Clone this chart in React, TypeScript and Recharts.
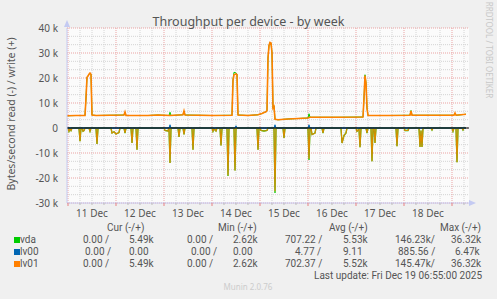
import { LineChart, Line, XAxis, YAxis, ReferenceLine } from "recharts";

// hours since 11 Dec 00:00, values in k bytes/s
type Pt = [number, number];

const dayLabels = ["11 Dec", "12 Dec", "13 Dec", "14 Dec", "15 Dec", "16 Dec", "17 Dec", "18 Dec"];
const dayLabelHours = [12, 36, 60, 84, 108, 132, 156, 180];
const yTicks = [-30, -20, -10, 0, 10, 20, 30, 40];

const lv01Write: Pt[] = [
  [-1, 4.9], [4, 5.0], [8.5, 5.0], [9, 12], [9.5, 20.3], [10, 20.8], [10.5, 21.5], [11, 22], [11.5, 21.5], [12, 5.2],
  [14, 5.0], [28, 5.2], [28.5, 6.4], [29, 5.0], [40, 5.0], [45, 5.2], [51, 5.0], [57.5, 5.3], [58, 6.8], [58.5, 5.2],
  [72, 5.0], [82, 5.1], [82.5, 19], [83, 21.3], [84, 21.6], [84.5, 21.3], [85, 5.2], [90, 5.0], [95, 5.3], [97, 5.8],
  [98, 6.2], [99, 6.5], [99.5, 7], [100, 28], [100.5, 33], [101, 34.2], [101.5, 34], [102, 30], [102.5, 8], [103, 8.6],
  [103.5, 3.5], [105, 3.3], [110, 3.6], [115, 3.8], [120, 4.0], [121, 4.3], [135, 4.3], [147.5, 4.4], [148, 12], [148.5, 21],
  [149, 18], [149.5, 8], [150, 5.0], [160, 5.0], [171, 5.1], [171.5, 6.8], [172, 5.1], [193, 5.1], [193.5, 6.0], [194, 5.1],
  [199, 5.5],
];

const vdaWrite: Pt[] = [
  [-1, 4.9], [4, 5.0], [8.5, 5.0], [9, 12], [9.5, 20.3], [10, 20.8], [10.5, 21.5], [11, 22], [11.5, 21.5], [12, 5.2],
  [14, 5.0], [28, 5.2], [28.5, 6.4], [29, 5.0], [40, 5.0], [45, 5.2], [50.5, 5.0], [51, 6.3], [51.5, 5.0], [57.5, 5.3],
  [58, 6.8], [58.5, 5.2], [72, 5.0], [82, 5.1], [82.5, 19.5], [83, 22.3], [84, 22.0], [84.5, 21.5], [85, 5.2], [90, 5.0],
  [95, 5.3], [97, 5.8], [98, 6.2], [99, 6.5], [99.5, 7], [100, 28], [100.5, 33], [101, 34.3], [101.5, 34], [102, 30],
  [102.5, 8], [103, 8.8], [103.5, 3.5], [105, 3.3], [110, 3.6], [115, 3.8], [120, 4.0], [120.5, 5.7], [121, 4.3], [135, 4.3],
  [147.5, 4.4], [148, 12], [148.5, 21.3], [149, 18], [149.5, 8], [150, 5.0], [160, 5.0], [171, 5.1], [171.5, 7.0], [172, 5.1],
  [193, 5.1], [193.5, 6.0], [194, 5.1], [199, 5.5],
];

const lv00Write: Pt[] = [
  [-1, 0], [50.5, 0], [51, 1.3], [51.5, 0], [83.5, 0], [84, 0.9], [84.5, 0], [103, 0], [103.5, 1.3], [104, 0],
  [120, 0], [120.5, 1.3], [121, 0], [199, 0],
];

const lv00Read: Pt[] = [[-1, 0], [199, 0]];

const lv01Read: Pt[] = [
  [-1, 0], [0, 0], [0.5, -1.3], [1, -0.3], [1.5, -1.0], [2, 0], [5.5, 0], [6, -5.3], [6.5, 0], [7, 0],
  [7.5, -1.3], [8, -1.0], [8.5, 0], [10.5, 0], [11, -1.3], [11.5, 0], [14, 0], [14.5, -6.4], [15, 0], [21.5, 0],
  [22, -2.0], [23, -1.5], [24, -2.4], [25.5, -1.8], [26, 0], [28, 0], [28.5, -2.0], [29, 0], [31.5, 0], [32, -6.0],
  [32.5, 0], [34, 0], [34.5, -8.7], [35, 0], [48, 0], [48.5, -1.0], [50, -1.2], [50.5, 0], [51, -14.0], [51.5, 0],
  [55, 0], [55.5, -3.6], [56, 0], [57.5, 0], [58, -2.6], [58.5, 0], [62, 0], [62.5, -8.7], [63, 0], [72, 0],
  [72.5, -1.3], [73, -0.3], [74, -1.2], [74.5, 0], [76, 0], [76.5, -7.0], [77, 0], [79.5, 0], [80, -19.0], [80.5, 0],
  [83, 0], [83.5, -17.0], [84, 0], [94.5, 0], [95, -8.7], [95.5, 0], [96, 0], [96.5, -1.0], [98, -1.2], [99.5, -1.0],
  [100, 0], [103, 0], [103.5, -25.3], [104, 0], [107.5, 0], [108, -4.0], [108.5, 0], [120, 0], [120.5, -12.3], [121, 0],
  [121.5, 0], [122, -2.6], [123.5, -2.0], [124, 0], [127, 0], [127.5, -2.0], [128, 0], [136.5, 0], [137, -6.0], [138, -3.0],
  [139, -2.0], [139.5, 0], [144, 0], [144.5, -1.3], [145.5, -0.5], [146, -7.7], [146.5, 0], [149, 0], [149.5, -2.0], [150, 0],
  [151.5, 0], [152, -13.3], [152.5, 0], [153, 0], [153.5, -6.0], [154, 0], [164, 0], [164.5, -7.3], [165, 0], [168, 0],
  [168.5, -1.0], [170, -1.0], [170.5, 0], [175.5, 0], [176, -7.6], [176.5, -1.0], [177, -7.6], [177.5, 0], [181.5, 0], [182, -0.8],
  [182.5, 0], [192, 0], [192.5, -1.3], [193, 0], [194, 0], [194.5, -13.7], [195, 0], [197, 0], [197.5, -0.8], [198, 0],
  [199, 0],
];

const vdaRead: Pt[] = [
  [-1, 0], [0, 0], [0.5, -1.3], [1, -0.3], [1.5, -1.0], [2, 0], [5.5, 0], [6, -5.3], [6.5, 0], [7, 0],
  [7.5, -1.3], [8, -1.0], [8.5, 0], [10.5, 0], [11, -1.3], [11.5, 0], [14, 0], [14.5, -6.4], [15, 0], [21.5, 0],
  [22, -2.0], [23, -1.5], [24, -2.4], [25.5, -1.8], [26, 0], [28, 0], [28.5, -2.0], [29, 0], [31.5, 0], [32, -6.0],
  [32.5, 0], [34, 0], [34.5, -8.7], [35, 0], [48, 0], [48.5, -1.0], [50, -1.2], [50.5, 0], [51, -14.0], [51.5, 0],
  [55, 0], [55.5, -3.6], [56, 0], [57.5, 0], [58, -2.6], [58.5, 0], [62, 0], [62.5, -8.7], [63, 0], [72, 0],
  [72.5, -1.3], [73, -0.3], [74, -1.2], [74.5, 0], [76, 0], [76.5, -7.0], [77, 0], [79.5, 0], [80, -19.2], [80.5, 0],
  [83, 0], [83.5, -17.0], [84, 0], [94.5, 0], [95, -8.7], [95.5, 0], [96, 0], [96.5, -1.0], [98, -1.2], [99.5, -1.0],
  [100, 0], [103, 0], [103.5, -26.0], [104, 0], [107.5, 0], [108, -4.0], [108.5, 0], [120, 0], [120.5, -12.8], [121, 0],
  [121.5, 0], [122, -2.6], [123.5, -2.0], [124, 0], [127, 0], [127.5, -2.0], [128, 0], [136.5, 0], [137, -6.0], [138, -3.0],
  [139, -2.0], [139.5, 0], [144, 0], [144.5, -1.3], [145.5, -0.5], [146, -7.7], [146.5, 0], [149, 0], [149.5, -2.0], [150, 0],
  [151.5, 0], [152, -13.3], [152.5, 0], [153, 0], [153.5, -6.0], [154, 0], [164, 0], [164.5, -7.3], [165, 0], [168, 0],
  [168.5, -1.0], [170, -1.0], [170.5, 0], [175.5, 0], [176, -7.6], [176.5, -1.0], [177, -7.6], [177.5, 0], [181.5, 0], [182, -0.8],
  [182.5, 0], [192, 0], [192.5, -1.3], [193, 0], [194, 0], [194.5, -13.7], [195, 0], [197, 0], [197.5, -0.8], [198, 0],
  [199, 0],
];

const legendNames = ["vda", "lv00", "lv01"];
const legendColors = ["#00CC00", "#0066B3", "#FF8000"];
const curRead = ["0.00 /", "0.00 /", "0.00 /"];
const curWrite = ["5.49k", "0.00", "5.49k"];
const minRead = ["0.00 /", "0.00 /", "0.00 /"];
const minWrite = ["2.62k", "0.00", "2.62k"];
const avgRead = ["707.22 /", "4.77 /", "702.37 /"];
const avgWrite = ["5.53k", "9.11", "5.52k"];
const maxRead = ["146.23k/", "885.56 /", "145.47k/"];
const maxWrite = ["36.32k", "6.47k", "36.32k"];

const toRows = (pts: Pt[]) => pts.map(([t, v]) => ({ t, v }));

const FONT = "'Noto Sans', sans-serif";
const LEGEND_FONT = "Roboto, 'Noto Sans', sans-serif";
const TEXT = "#555555";
const AXIS = "#C4CAF2";

// rrdtool-style grid: minor every 6h / 10k/3, major every day / 10k
const minorX: number[] = [];
const majorX: number[] = [];
for (let h = 0; h <= 198; h += 6) (h % 24 === 0 ? majorX : minorX).push(h);
const minorY: number[] = [];
for (let i = -9; i <= 12; i++) if (i % 3 !== 0) minorY.push((i * 10) / 3);
const hourToPx = (h: number) => 68 + 2 * h;

function YTick(props: any) {
  const { x, y, payload } = props;
  const v = payload.value;
  const label = v === 0 ? "0" : `${v} k`;
  return (
    <text x={x - 1} y={y + 3.5} textAnchor="end" fontSize={10} fill={TEXT} fontFamily={FONT}>
      {label}
    </text>
  );
}

function XTick(props: any) {
  const { x, y, payload } = props;
  const i = dayLabelHours.indexOf(payload.value);
  return (
    <text x={x} y={y + 6} textAnchor="middle" fontSize={10} fill={TEXT} fontFamily={FONT}>
      {dayLabels[i]}
    </text>
  );
}

const series = [
  { name: "vda", read: vdaRead, write: vdaWrite, color: legendColors[0], rw: 1.3, ww: 1, op: 1 },
  { name: "lv00", read: lv00Read, write: lv00Write, color: legendColors[1], rw: 1.2, ww: 1, op: 1 },
  { name: "lv01", read: lv01Read, write: lv01Write, color: legendColors[2], rw: 1.2, ww: 1.6, op: 0.85 },
];

// legend column start positions per row (read / write)
const readX = [
  [83, 187, 285, 395],
  [85, 191, 295, 398],
  [83, 187, 285, 395],
];
const writeX = [
  [129, 233, 343, 451],
  [129, 233, 343, 455],
  [129, 233, 343, 451],
];
const rowY = [243, 255, 267];

export default function App() {
  const cols = [
    [curRead, curWrite],
    [minRead, minWrite],
    [avgRead, avgWrite],
    [maxRead, maxWrite],
  ];
  const legendTexts: { x: number; y: number; s: string }[] = [];
  legendNames.forEach((n, r) => {
    legendTexts.push({ x: 20, y: rowY[r], s: n });
    cols.forEach(([rd, wr], c) => {
      legendTexts.push({ x: readX[r][c], y: rowY[r], s: rd[r] });
      legendTexts.push({ x: writeX[r][c], y: rowY[r], s: wr[r] });
    });
  });
  return (
    <div style={{ position: "absolute", left: 0, top: 0, width: 497, height: 299, background: "#F0F0F0", fontFamily: FONT }}>
      <LineChart width={497} height={299} margin={{ top: 28, right: 28, bottom: 66, left: 0 }}>
        <rect x={67} y={28} width={402} height={175} fill="#FBFBFB" />
        <XAxis
          type="number"
          dataKey="t"
          domain={[-0.5, 200.5]}
          allowDataOverflow
          ticks={dayLabelHours}
          tick={<XTick />}
          tickLine={false}
          axisLine={{ stroke: AXIS }}
          height={30}
        />
        <YAxis
          type="number"
          domain={[-30, 40]}
          allowDataOverflow
          ticks={yTicks}
          tick={<YTick />}
          tickLine={false}
          axisLine={{ stroke: AXIS }}
          width={67}
        />
        {minorX.map((h) => (
          <ReferenceLine key={"mx" + h} x={h} stroke="#D4D4D4" strokeDasharray="1 1" />
        ))}
        {minorY.map((v) => (
          <ReferenceLine key={"my" + v} y={v} stroke="#D4D4D4" strokeDasharray="1 1" />
        ))}
        {majorX.map((h) => (
          <ReferenceLine key={"Mx" + h} x={h} stroke="#EBA3A3" strokeDasharray="1 1" />
        ))}
        {yTicks.map((v) => (
          <ReferenceLine key={"My" + v} y={v} stroke="#EBA3A3" strokeDasharray="1 1" />
        ))}
        {series.map((s) => (
          <Line
            key={s.name + "r"}
            data={toRows(s.read)}
            dataKey="v"
            stroke={s.color}
            strokeWidth={s.rw}
            strokeOpacity={s.op}
            dot={false}
            isAnimationActive={false}
            type="linear"
          />
        ))}
        {series.map((s) => (
          <Line
            key={s.name + "w"}
            data={toRows(s.write)}
            dataKey="v"
            stroke={s.color}
            strokeWidth={s.ww}
            dot={false}
            isAnimationActive={false}
            type="linear"
          />
        ))}
        <ReferenceLine y={0} stroke="#000000" strokeWidth={1} />
      </LineChart>
      <svg width={497} height={299} style={{ position: "absolute", left: 0, top: 0, pointerEvents: "none" }}>
        <polygon points="64,27 70,27 67,20" fill={AXIS} />
        <polygon points="469,200 469,206 476,203" fill={AXIS} />
        {minorX.map((h) => (
          <line key={"tm" + h} x1={hourToPx(h)} x2={hourToPx(h)} y1={203} y2={205} stroke="#BBBBBB" />
        ))}
        {majorX.map((h) => (
          <line key={"tM" + h} x1={hourToPx(h)} x2={hourToPx(h)} y1={203} y2={206} stroke="#E88080" />
        ))}
        <text x={248.5} y={26} textAnchor="middle" fontSize={12.5} fill={TEXT} fontFamily={FONT}>
          Throughput per device - by week
        </text>
        <text transform="translate(15,114) rotate(-90)" textAnchor="middle" fontSize={10.5} fill={TEXT} fontFamily={FONT}>
          Bytes/second read (-) / write (+)
        </text>
        <text transform="translate(486,50) rotate(90)" textAnchor="middle" fontSize={8} fill="#C8C8C8" fontFamily={FONT}>
          RRDTOOL / TOBI OETIKER
        </text>
        {legendNames.map((n, r) => (
          <rect key={n} x={14} y={rowY[r] - 6} width={6} height={6} fill={legendColors[r]} />
        ))}
        <g fontSize={10} fill={TEXT} fontFamily={LEGEND_FONT}>
          <text x={107} y={231}>Cur (-/+)</text>
          <text x={218} y={231}>Min (-/+)</text>
          <text x={329} y={231}>Avg (-/+)</text>
          <text x={440} y={231}>Max (-/+)</text>
          {legendTexts.map((t, i) => (
            <text key={i} x={t.x} y={t.y}>
              {t.s}
            </text>
          ))}
          <text x={482} y={279} textAnchor="end">
            Last update: Fri Dec 19 06:55:00 2025
          </text>
        </g>
        <text x={248} y={290} textAnchor="middle" fontSize={8} fill="#CCCCCC" fontFamily={FONT}>
          Munin 2.0.76
        </text>
      </svg>
    </div>
  );
}
